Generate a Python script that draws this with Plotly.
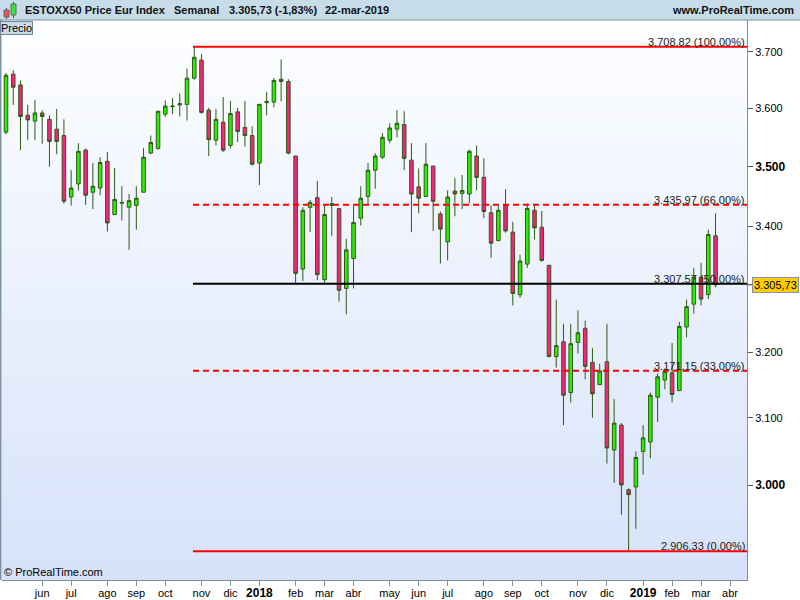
import math
import pandas as pd
import plotly.graph_objects as go

# ---------------- data (weekly candles, week starting Monday) ----------------
first_week = "2017-05-01"
opens = [3559, 3660, 3641, 3588, 3578, 3592, 3581, 3564, 3553, 3449,
         3471, 3528, 3457, 3464, 3509, 3420, 3440, 3432, 3435, 3457,
         3523, 3531, 3590, 3603, 3606, 3607, 3653, 3685, 3597, 3545,
         3576, 3536, 3594, 3567, 3553, 3506, 3610, 3611, 3651, 3647,
         3518, 3331, 3432, 3448, 3314, 3435, 3430, 3300, 3348, 3414,
         3450, 3494, 3516, 3545, 3564, 3572, 3511, 3466, 3450, 3501,
         3421, 3375, 3459, 3455, 3454, 3518, 3482, 3423, 3377, 3435,
         3391, 3290, 3339, 3427, 3399, 3337, 3193, 3216, 3138, 3215,
         3237, 3184, 3150, 3185, 3052, 3089, 2994, 2998, 3050, 3064,
         3131, 3157, 3168, 3141, 3239, 3275, 3318, 3290, 3385]
highs = [3662, 3667, 3649, 3606, 3615, 3597, 3588, 3599, 3581, 3494,
         3540, 3531, 3506, 3516, 3525, 3498, 3467, 3454, 3467, 3532,
         3553, 3596, 3614, 3618, 3626, 3670, 3708.82, 3696, 3601, 3599,
         3620, 3613, 3601, 3613, 3569, 3608, 3629, 3653, 3686, 3651,
         3518, 3432, 3444, 3476, 3435, 3449, 3430, 3380, 3434, 3467,
         3506, 3523, 3557, 3574, 3597, 3595, 3540, 3497, 3540, 3501,
         3425, 3460, 3481, 3486, 3529, 3536, 3514, 3435, 3435, 3462,
         3408, 3354, 3438, 3437, 3426, 3338, 3282, 3244, 3244, 3265,
         3249, 3206, 3182, 3244, 3128, 3092, 2996, 3050, 3089, 3138,
         3167, 3175, 3214, 3247, 3282, 3333, 3341, 3395, 3422]
lows = [3555, 3606, 3528, 3545, 3545, 3539, 3500, 3521, 3438, 3435,
        3460, 3436, 3429, 3452, 3392, 3420, 3410, 3362, 3395, 3457,
        3521, 3529, 3585, 3590, 3586, 3579, 3650, 3591, 3518, 3536,
        3525, 3531, 3542, 3534, 3502, 3469, 3588, 3602, 3612, 3521,
        3306, 3312, 3391, 3313, 3306, 3385, 3279, 3259, 3300, 3402,
        3437, 3463, 3513, 3540, 3550, 3494, 3391, 3422, 3450, 3393,
        3340, 3345, 3417, 3429, 3439, 3460, 3414, 3349, 3377, 3390,
        3273, 3285, 3333, 3379, 3343, 3192, 3176, 3089, 3123, 3198,
        3158, 3100, 3150, 3032, 3004, 2958, 2906.33, 2938, 3016, 3040,
        3094, 3143, 3123, 3141, 3223, 3260, 3273, 3283, 3302]
closes = [3658, 3637, 3586, 3580, 3592, 3586, 3543, 3543, 3442, 3464,
          3526, 3452, 3467, 3507, 3406, 3445, 3439, 3443, 3447, 3516,
          3541, 3595, 3604, 3604, 3608, 3653, 3690, 3593, 3546, 3581,
          3528, 3591, 3560, 3553, 3504, 3607, 3612, 3649, 3647, 3523,
          3324, 3427, 3440, 3322, 3420, 3438, 3297, 3362, 3407, 3447,
          3494, 3518, 3550, 3566, 3574, 3514, 3454, 3447, 3504, 3442,
          3396, 3449, 3454, 3460, 3526, 3482, 3425, 3373, 3427, 3393,
          3292, 3344, 3430, 3398, 3345, 3193, 3210, 3134, 3213, 3230,
          3178, 3136, 3171, 3055, 3092, 3001, 2987, 3041, 3070, 3134,
          3162, 3170, 3135, 3240, 3271, 3318, 3283, 3387, 3305.73]

month_labels = ["jun", "jul", "ago", "sep", "oct", "nov", "dic", "2018", "feb", "mar",
                "abr", "may", "jun", "jul", "ago", "sep", "oct", "nov", "dic", "2019",
                "feb", "mar", "abr"]
first_month = "2017-06-01"

fib_ratios = [1.0, 0.66, 0.5, 0.33, 0.0]
ytick_values = [3000, 3100, 3200, 3400, 3500, 3600, 3700]
ytick_bold = [3000, 3500]

title_name = "ESTOXX50 Price Eur Index"
title_period = "Semanal"
day_change_pct = -1.83
title_date = "22-mar-2019"

# ---------------- helpers ----------------
FONT = "Arial, Liberation Sans, sans-serif"
W, H = 800, 600
ML, MR, MT, MB = 2, 53, 20, 20
PW, PH = W - ML - MR, H - MT - MB


def px2x(px):
    return (px - ML) / PW


def py2y(py):
    return (H - MB - py) / PH


def es(v, d=2):
    s = f"{v:,.{d}f}"
    return s.replace(",", "X").replace(".", ",").replace("X", ".")


dates = pd.date_range(first_week, periods=len(opens), freq="7D")
months = pd.date_range(first_month, periods=len(month_labels), freq="MS")
tick_dates = [m + pd.Timedelta(days=(7 - m.weekday()) % 7) for m in months]
tick_text = [f"<span style='font-size:12px'><b>{t}</b></span>" if t.isdigit() else t
             for t in month_labels]

x_start = pd.Timestamp("2017-04-27 03:10")
x_end = pd.Timestamp("2019-04-17 10:20")
y_lo, y_hi = 2866.2, 3757.1

fig = go.Figure()

# gradient plot background
nb = 56
top_c = (253, 254, 255)
bot_c = (215, 226, 250)
shapes = []
for i in range(nb):
    t = (i + 0.5) / nb
    c = tuple(round(top_c[k] + (bot_c[k] - top_c[k]) * t) for k in range(3))
    shapes.append(dict(type="rect", xref="paper", yref="paper", x0=0, x1=1,
                       y0=1 - (i + 1) / nb, y1=1 - i / nb + 0.001,
                       fillcolor=f"rgb{c}", line=dict(width=0), layer="below"))

# header bar
shapes.append(dict(type="rect", xref="paper", yref="paper", x0=px2x(0), x1=px2x(800),
                   y0=py2y(20), y1=py2y(0), fillcolor="#c6dde9",
                   line=dict(width=0), layer="above"))
shapes.append(dict(type="line", xref="paper", yref="paper", x0=px2x(0), x1=px2x(800),
                   y0=py2y(20), y1=py2y(20), line=dict(color="#7d929f", width=1)))
# left border
shapes.append(dict(type="line", xref="paper", yref="paper", x0=px2x(0.5), x1=px2x(0.5),
                   y0=py2y(580), y1=py2y(20), line=dict(color="#7d929f", width=2)))
# header icon (two tiny candles)
shapes += [
    dict(type="line", xref="paper", yref="paper", x0=px2x(6.5), x1=px2x(6.5),
         y0=py2y(19), y1=py2y(8), line=dict(color="#555", width=1)),
    dict(type="rect", xref="paper", yref="paper", x0=px2x(4), x1=px2x(9),
         y0=py2y(17), y1=py2y(10), fillcolor="#f05050", line=dict(color="#666", width=1)),
    dict(type="line", xref="paper", yref="paper", x0=px2x(13.5), x1=px2x(13.5),
         y0=py2y(18), y1=py2y(2), line=dict(color="#555", width=1)),
    dict(type="rect", xref="paper", yref="paper", x0=px2x(11), x1=px2x(16),
         y0=py2y(15), y1=py2y(4), fillcolor="#3ee03e", line=dict(color="#666", width=1)),
]

fig.add_trace(go.Candlestick(
    x=dates, open=opens, high=highs, low=lows, close=closes,
    increasing=dict(fillcolor="#2bef00", line=dict(color="#2d5a16", width=1)),
    decreasing=dict(fillcolor="#ff1f7f", line=dict(color="#2d5a16", width=1)),
    whiskerwidth=0, showlegend=False, hoverinfo="skip"))

# Fibonacci retracement
hi = max(highs)
lo = min(lows)
x_fib = dates[highs.index(hi)] - pd.Timedelta(hours=30)
annotations = []
for r in fib_ratios:
    lvl = lo + r * (hi - lo)
    if r in (1.0, 0.0):
        ln = dict(color="#ff0000", width=2)
    elif r == 0.5:
        ln = dict(color="#000000", width=2)
    else:
        ln = dict(color="#ff0000", width=2, dash="6px,4px")
    fig.add_trace(go.Scatter(x=[x_fib, x_end], y=[lvl, lvl], mode="lines", line=ln,
                             showlegend=False, hoverinfo="skip"))
    annotations.append(dict(xref="paper", yref="y", x=1, y=math.log10(lvl),
                            xanchor="right", yanchor="bottom", yshift=-3, showarrow=False,
                            text=f"{es(lvl)} ({es(r * 100)}%)",
                            font=dict(family=FONT, size=11, color="#1a1a1a")))

last = closes[-1]
# price tag
shapes.append(dict(type="line", xref="paper", yref="y", x0=1, x1=px2x(752),
                   y0=last, y1=last, line=dict(color="#333", width=1)))
annotations.append(dict(xref="paper", yref="y", x=px2x(752), y=math.log10(last),
                        xanchor="left", yanchor="middle", showarrow=False,
                        text=es(last), bgcolor="#ffcc00", bordercolor="#8393a1",
                        borderwidth=1, borderpad=1,
                        font=dict(family=FONT, size=11, color="#000")))

# header texts
hdr_y = py2y(10.5)
for px, txt in [(23, title_name), (172, title_period),
                (227, f"{es(last)} ({es(day_change_pct)}%)"), (323, title_date)]:
    annotations.append(dict(xref="paper", yref="paper", x=px2x(px), y=hdr_y,
                            xanchor="left", yanchor="middle", showarrow=False,
                            text=f"<b>{txt}</b>",
                            font=dict(family=FONT, size=11, color="#111")))
annotations.append(dict(xref="paper", yref="paper", x=px2x(796), y=hdr_y,
                        xanchor="right", yanchor="middle", showarrow=False,
                        text="<b>www.ProRealTime.com</b>",
                        font=dict(family=FONT, size=11, color="#111")))
# Precio box
annotations.append(dict(xref="paper", yref="paper", x=px2x(0), y=py2y(20.5),
                        xanchor="left", yanchor="top", showarrow=False, text="Precio",
                        bgcolor="#c9dde8", bordercolor="#6f8796", borderwidth=1,
                        borderpad=0, font=dict(family=FONT, size=11, color="#000")))
# copyright
annotations.append(dict(xref="paper", yref="paper", x=px2x(2), y=py2y(580),
                        xanchor="left", yanchor="bottom", showarrow=False,
                        text="© ProRealTime.com",
                        font=dict(family=FONT, size=11, color="#000")))

ytick_text = [f"<span style='font-size:12px'><b>{es(v, 0)}</b></span>" if v in ytick_bold
              else es(v, 0) for v in ytick_values]

fig.update_layout(
    width=W, height=H, margin=dict(l=ML, r=MR, t=MT, b=MB, autoexpand=False),
    paper_bgcolor="#ffffff", plot_bgcolor="#ffffff",
    font=dict(family=FONT, size=11, color="#000"),
    shapes=shapes, annotations=annotations, showlegend=False,
    xaxis=dict(type="date", range=[x_start, x_end], rangeslider=dict(visible=False),
               tickmode="array", tickvals=tick_dates, ticktext=tick_text,
               ticks="outside", ticklen=5, tickcolor="#7d929f", showgrid=False,
               showline=True, linecolor="#7d929f", linewidth=1, zeroline=False,
               automargin=False, ticklabelstandoff=-2,
               tickfont=dict(family=FONT, size=11, color="#000")),
    yaxis=dict(type="log", range=[math.log10(y_lo), math.log10(y_hi)], side="right",
               tickmode="array", tickvals=ytick_values, ticktext=ytick_text,
               ticks="outside", ticklen=5, tickcolor="#555", showgrid=False,
               showline=True, linecolor="#7d929f", linewidth=1, zeroline=False,
               automargin=False,
               tickfont=dict(family=FONT, size=11, color="#000")),
)

fig.write_html("out.html", config={"displayModeBar": False})

# remove the browser's default page margin so the figure sits at (0, 0)
with open("out.html", encoding="utf-8") as f:
    page = f.read()
page = page.replace("<head>", "<head><style>html,body{margin:0;padding:0;overflow:hidden;}</style>", 1)
with open("out.html", "w", encoding="utf-8") as f:
    f.write(page)
